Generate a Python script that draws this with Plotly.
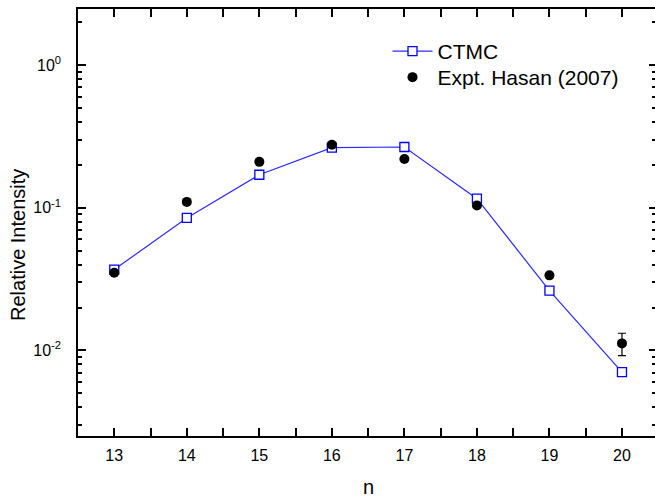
import plotly.graph_objects as go

# ---- data ----
n = [13, 14, 15, 16, 17, 18, 19, 20]
ctmc = [0.0369, 0.0849, 0.1706, 0.264, 0.267, 0.1159, 0.0263, 0.00705]
expt = [0.035, 0.110, 0.210, 0.277, 0.220, 0.104, 0.0336, 0.0112]
expt_err = [None, None, None, None, None, None, None, 0.002]
x_ticks = [13, 14, 15, 16, 17, 18, 19, 20]
x_minor = [13.5, 14.5, 15.5, 16.5, 17.5, 18.5, 19.5]
y_major = [0.01, 0.1, 1]
y_major_text = ["10<sup>-2</sup>", "10<sup>-1</sup>", "10<sup>0</sup>"]
y_minor = [m * 10.0 ** e for e in (-3, -2, -1, 0) for m in range(2, 10)]

FONT = "Liberation Sans, Arial, Helvetica, sans-serif"
W, H = 655, 497
ML, MR, MT, MB = 78, 0, 9, 61
PW, PH = W - ML - MR, H - MT - MB
XR = [12.5, 12.5 + PW / 72.53]
YR = [-2.6, 0.394]


def px_x(p):
    return (p - ML) / PW


def px_y(p):
    return (H - MB - p) / PH


fig = go.Figure()
fig.add_trace(go.Scatter(
    x=n, y=ctmc, mode="lines+markers", name="CTMC", legend="legend",
    line=dict(color="#2b2bff", width=1.2),
    marker=dict(symbol="square", size=9, color="white",
                line=dict(color="#0000ff", width=1.3)),
))
fig.add_trace(go.Scatter(
    x=n, y=expt, mode="markers", name="Expt. Hasan (2007)", legend="legend2",
    marker=dict(symbol="circle", size=10, color="black"),
    error_y=dict(type="data", array=expt_err, visible=True,
                 color="black", thickness=1.2, width=4),
))
# dummy traces to bind overlay axes
for ax in ("y2", "y3", "y4"):
    fig.add_trace(go.Scatter(x=[None], y=[None], yaxis=ax, showlegend=False,
                             hoverinfo="skip"))

common_y = dict(type="log", range=YR, showgrid=False, zeroline=False)
leg_common = dict(xanchor="left", yanchor="top", bgcolor="rgba(0,0,0,0)",
                  font=dict(size=21, family=FONT), itemwidth=40)
fig.update_layout(
    width=W, height=H,
    margin=dict(l=ML, r=MR, t=MT, b=MB),
    paper_bgcolor="white", plot_bgcolor="white",
    font=dict(family=FONT, size=16, color="black"),
    showlegend=True,
    legend=dict(x=px_x(387.5), y=px_y(31), **leg_common),
    legend2=dict(x=px_x(387.5), y=px_y(57), **leg_common),
    xaxis=dict(range=XR, showgrid=False, zeroline=False,
               showline=True, linecolor="black", linewidth=1.5,
               mirror="allticks", ticks="inside", ticklen=8, tickwidth=1.5,
               tickcolor="black", tickvals=x_ticks,
               minor=dict(tickvals=x_minor, ticks="inside", ticklen=4,
                          tickwidth=1.5, tickcolor="black"),
               tickfont=dict(size=16), ticklabelstandoff=4),
    yaxis=dict(**common_y, showline=True, linecolor="black", linewidth=1.5,
               ticks="inside", ticklen=8, tickwidth=1.5, tickcolor="black",
               tickvals=y_major, ticktext=y_major_text,
               tickfont=dict(size=16), ticklabelstandoff=12),
    yaxis3=dict(**common_y, overlaying="y", side="left", showline=False,
                ticks="inside", ticklen=4, tickwidth=1.5, tickcolor="black",
                tickvals=y_minor, showticklabels=False),
    yaxis2=dict(**common_y, overlaying="y", side="right", showline=False,
                ticks="inside", ticklen=6, tickwidth=1.5, tickcolor="black",
                tickvals=y_major, showticklabels=False),
    yaxis4=dict(**common_y, overlaying="y", side="right", showline=False,
                ticks="inside", ticklen=3, tickwidth=1.5, tickcolor="black",
                tickvals=y_minor, showticklabels=False),
    annotations=[
        dict(text="Relative Intensity", xref="paper", yref="paper",
             x=px_x(18), y=px_y(245),
             xanchor="center", yanchor="middle", textangle=-90,
             showarrow=False, font=dict(size=20, family=FONT)),
        dict(text="n", xref="paper", yref="paper",
             x=px_x(368), y=px_y(487),
             xanchor="center", yanchor="middle",
             showarrow=False, font=dict(size=20, family=FONT)),
    ],
)

fig.write_html("out.html")
